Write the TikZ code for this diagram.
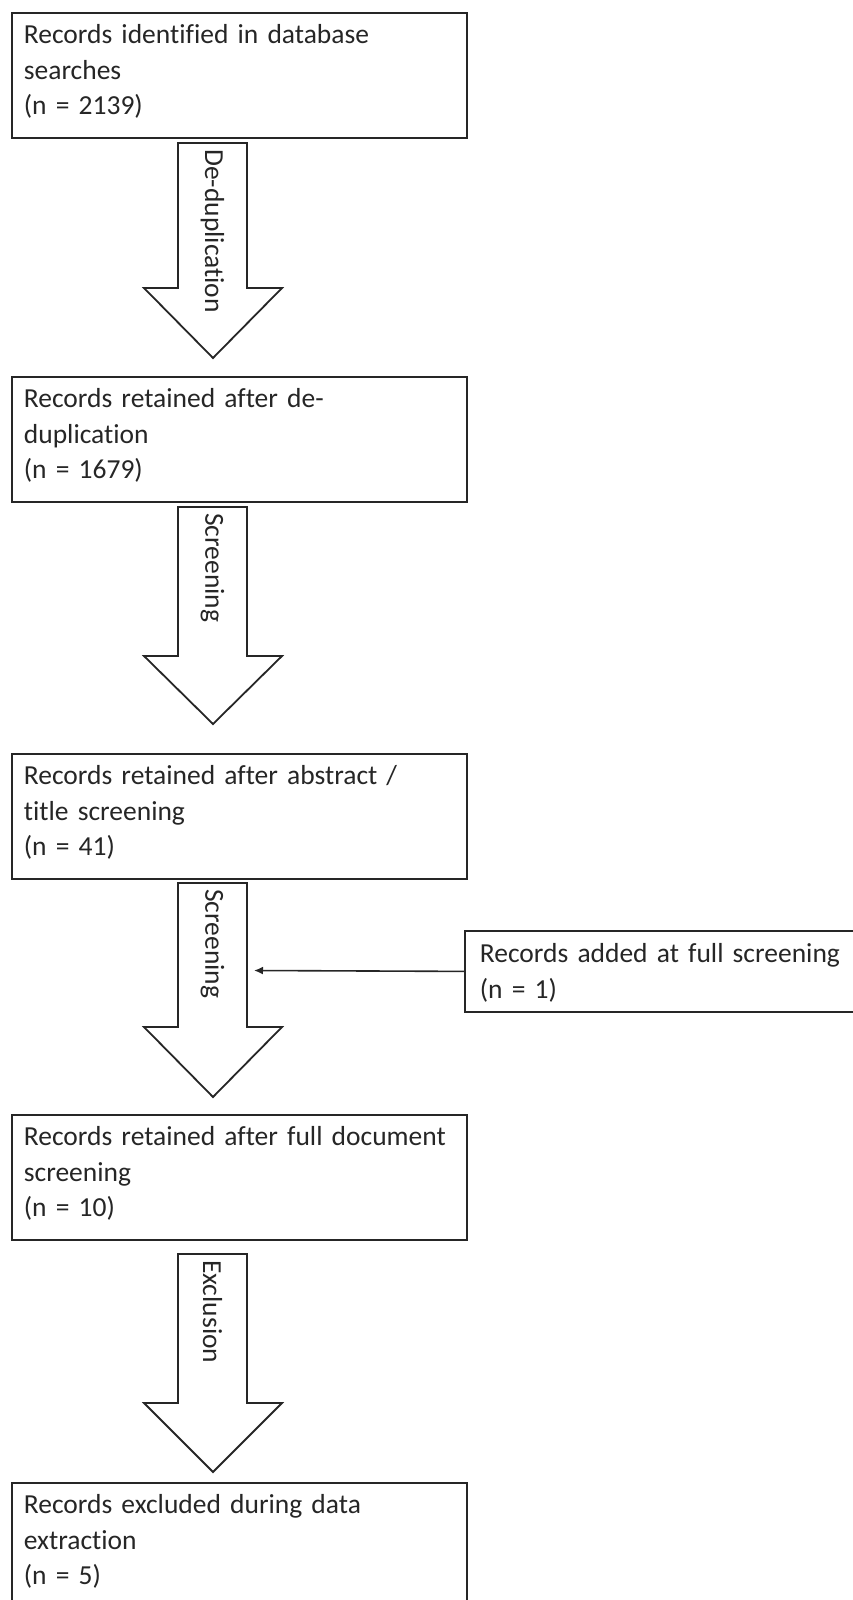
\documentclass[tikz,border=0pt]{standalone}
\usepackage{fontspec}
\setmainfont[Ligatures=NoCommon]{Carlito}
\usetikzlibrary{arrows.meta}
\definecolor{Ink}{RGB}{38,38,38}
\hyphenpenalty=10000

\begin{document}
\begin{tikzpicture}[x=1pt,y=-1pt,
    every node/.style={font=\fontsize{27.5}{35.5}\selectfont, text=Ink},
    recbox/.style={draw=Ink, line width=1.8pt, anchor=north west, inner xsep=12pt, inner ysep=0pt,
      text width=431pt, align=left, text height=31pt, text depth=94pt},
    sidebox/.style={recbox, inner xsep=15pt, text width=386pt, text height=32pt, text depth=49pt},
    blockarrow/.style={draw=Ink, line width=1.8pt, fill=white, line join=miter},
    steplabel/.style={rotate=-90, anchor=west, inner sep=0pt}]
  \fill[white] (0,0) rectangle (853,1600);
  \clip (0,0) rectangle (853,1600);

  % boxes
  \node[recbox] (found) at (11,12) {Records identified in database\\searches\\(n = 2139)};
  \node[recbox] (dedup) at (11,376) {Records retained after de-\\duplication\\(n = 1679)};
  \node[recbox] (abstr) at (11,753) {Records retained after abstract /\\title screening\\(n = 41)};
  \node[recbox] (fulldoc) at (11,1114) {Records retained after full document\\screening\\(n = 10)};
  \node[recbox] (excl) at (11,1482) {Records excluded during data\\extraction\\(n = 5)};
  \node[sidebox] (added) at (464,930) {Records added at full screening\\(n = 1)};

  % block arrows
  \foreach \k/\ytop/\yneck/\ytip/\lab in {1/143/288/358/De-duplication, 2/507/656/724/Screening,
      3/883/1027/1097/Screening, 4/1254/1403/1472/Exclusion} {
    \draw[blockarrow] (178,\ytop) -- (247,\ytop) -- (247,\yneck) -- (282,\yneck)
      -- (213,\ytip) -- (144,\yneck) -- (178,\yneck) -- cycle;
    \node[steplabel] (lab\k) at (212.5,\ytop+6) {\lab};
  }

  \coordinate (join) at (254,970.5);
  \draw[-{Latex[length=9pt,width=8pt]}, line width=1.6pt, Ink] (added.west) -- (join);
\end{tikzpicture}
\end{document}
